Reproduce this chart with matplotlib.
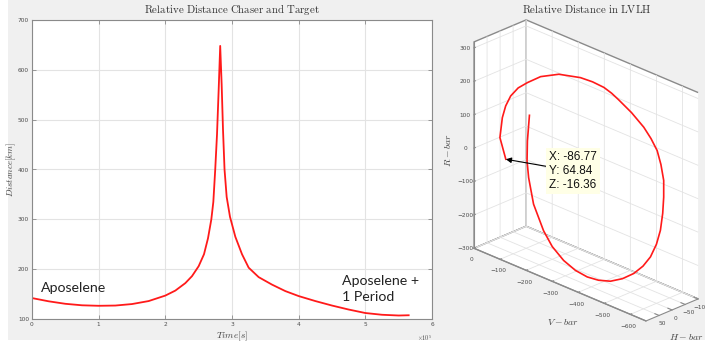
import numpy as np
import matplotlib
matplotlib.use("Agg")
import matplotlib.pyplot as plt
from matplotlib.patches import Rectangle
from mpl_toolkits.mplot3d import proj3d

plt.rcParams["mathtext.fontset"] = "cm"

# Relative distance between chaser and target over one orbit
time_e5 = [0.0, 0.25, 0.5, 0.75, 1.0, 1.25, 1.5, 1.75, 2.0, 2.15, 2.3, 2.4,
           2.5, 2.58, 2.64, 2.69, 2.72, 2.748, 2.775, 2.80, 2.823, 2.845,
           2.865, 2.888, 2.92, 2.97, 3.05, 3.15, 3.25, 3.4, 3.6, 3.8, 4.0,
           4.25, 4.5, 4.75, 5.0, 5.25, 5.5, 5.65]
distance_km = [142, 135.5, 130.5, 127.5, 126.5, 127, 130, 136, 147, 157, 172,
               186, 206, 230, 262, 300, 335, 399, 470, 560, 648, 570, 480,
               400, 345, 305, 265, 230, 203, 184, 169, 156, 146, 136, 127,
               119, 112, 108.5, 107, 107.5]

# Relative trajectory in the LVLH frame (km)
v_bar = [-86.77, -67.3, -76.6, -88.4, -106.7, -131.4, -162.8, -203.6, -260.5,
         -328.4, -372.8, -413.4, -437.9, -459.6, -501.4, -541.5, -564.1,
         -582.7, -594.2, -602.9, -602.9, -600.1, -593.3, -581.1, -562.1,
         -538.4, -508.2, -469.7, -428.6, -389.6, -354.4, -311.2, -269.0,
         -227.3, -196.8, -163.4, -149.5, -145.4, -148.8, -157.6]
h_bar = [64.84, 68, 68, 67, 66, 62, 58, 48, 35, 20, 18, 15, 10, 5, -3, -10,
         -15, -20, -23, -25, -25, -24, -22, -19, -15, -10, -5, 0, 5, 12, 20,
         22, 25, 27, 30, 35, 40, 42, 44, 45]
r_bar = [-16.36, 43.1, 105.9, 144.5, 180.2, 211.0, 235.9, 264.0, 285.6, 292.9,
         294.3, 290.0, 279.1, 265.2, 237.6, 204.7, 176.7, 145.3, 106.4, 60.8,
         11.0, -38.3, -90.6, -135.4, -178.3, -212.2, -242.4, -269.1, -288.6,
         -296.2, -295.3, -289.3, -272.6, -244.2, -205.6, -135.4, -58.9, -9.6,
         51.9, 132.0]

dist_ticks = [100, 200, 300, 400, 500, 600, 700]
time_ticks = [0, 1, 2, 3, 4, 5, 6]
v_ticks = [0, -100, -200, -300, -400, -500, -600]
h_ticks = [-100, -50, 0, 50]
r_ticks = [-300, -200, -100, 0, 100, 200, 300]

W, H = 705, 347
fig = plt.figure(figsize=(W / 100, H / 100), dpi=100)
fig.patch.set_facecolor("white")
fig.patches.append(Rectangle((8 / W, 7 / H), 1 - 8 / W, 1 - 7 / H,
                             transform=fig.transFigure, facecolor="#f0f0f0",
                             edgecolor="none", zorder=-10))

spine_c = "#8a8a8a"
tick_c = "#4d4d4d"
grid_c = "#e3e3e3"

# ---- left: distance vs time ----
ax1 = fig.add_axes([32 / W, 28 / H, 400 / W, 299 / H])
t_s = np.array(time_e5) * 1e5
ax1.plot(t_s, distance_km, color="#ff1a1a", lw=1.3)
ax1.set_xlim(0, 6e5)
ax1.set_ylim(100, 700)
ax1.set_xticks([t * 1e5 for t in time_ticks])
ax1.set_xticklabels([str(t) for t in time_ticks])
ax1.set_yticks(dist_ticks)
ax1.set_yticklabels([str(d) for d in dist_ticks])
ax1.grid(True, color=grid_c, lw=0.8)
ax1.set_axisbelow(True)
for s in ax1.spines.values():
    s.set_color(spine_c)
    s.set_linewidth(0.8)
ax1.tick_params(direction="in", length=3, width=0.6, color=spine_c,
                labelsize=4.2, labelcolor=tick_c, top=True, right=True, pad=2)
ax1.set_title(r"$\mathrm{Relative\ Distance\ Chaser\ and\ Target}$",
              fontsize=7.8, color="#333333", pad=5)
ax1.set_xlabel(r"$Time[s]$", fontsize=6.8, color="#444444", labelpad=2)
ax1.set_ylabel(r"$Distance[km]$", fontsize=6.5, color="#444444", labelpad=0)
ax1.text(1.0, -0.048, r"$\times10^{5}$", transform=ax1.transAxes,
         fontsize=4.5, color=tick_c, ha="right", va="top")
ax1.text(0.023, 0.105, "Aposelene", transform=ax1.transAxes,
         fontsize=10.2, family="Lato", color="#222222", va="center")
ax1.text(0.775, 0.102, "Aposelene +\n1 Period", transform=ax1.transAxes,
         fontsize=10.2, family="Lato", color="#222222", va="center",
         linespacing=1.4)

# ---- right: 3D trajectory in LVLH ----
ax2 = fig.add_axes([450 / W, 3 / H, 265 / W, 340 / H], projection="3d",
                   proj_type="ortho")
ax2.set_facecolor("#f0f0f0")
ax2.plot(v_bar, h_bar, r_bar, color="#ff1a1a", lw=1.2)
ax2.set_xlim(-660, 0)
ax2.set_ylim(-100, 100)
ax2.set_zlim(-300, 318)
ax2.set_box_aspect((660, 200, 618), zoom=1.25)
ax2.view_init(elev=25, azim=135)
ax2.set_xticks(v_ticks)
ax2.set_yticks(h_ticks)
ax2.set_zticks(r_ticks)
for axis in (ax2.xaxis, ax2.yaxis, ax2.zaxis):
    axis.set_pane_color((1, 1, 1, 1))
    axis.pane.set_edgecolor(spine_c)
    axis.line.set_color(spine_c)
    axis.line.set_linewidth(0.8)
    axis._axinfo["grid"].update(color=grid_c, linewidth=0.6)
    axis._axinfo["tick"].update(inward_factor=0.0, outward_factor=0.3)
ax2.zaxis.set_ticks_position("upper")
ax2.tick_params(labelsize=4.2, labelcolor=tick_c, color=spine_c, pad=-4)
ax2.tick_params(axis="y", pad=-6)

fig.text(587 / W, 1 - 9 / H, r"$\mathrm{Relative\ Distance\ in\ LVLH}$",
         fontsize=7.8, color="#333333", ha="center", va="center")
fig.text(448 / W, 1 - 150 / H, r"$R-bar$", rotation=90, fontsize=7,
         color="#444444", ha="center", va="center")
fig.text(563 / W, 1 - 322 / H, r"$V-bar$", fontsize=7, color="#444444",
         ha="center", va="center")
fig.text(704 / W, 1 - 337 / H, r"$H-bar$", fontsize=7, color="#444444",
         ha="right", va="center")

# data tip on the first trajectory sample
fig.canvas.draw()
px, py, _ = proj3d.proj_transform(v_bar[0], h_bar[0], r_bar[0], ax2.get_proj())
tip_text = f"X: {v_bar[0]:.2f}\nY: {h_bar[0]:.2f}\nZ: {r_bar[0]:.2f}"
ax2.annotate(tip_text, xy=(px, py), xycoords="data",
             xytext=(549, H - 171), textcoords="figure pixels",
             fontsize=8.5, family="Liberation Sans", color="#111111",
             ha="left", va="center", linespacing=1.25,
             bbox=dict(boxstyle="square,pad=0.25", fc="#ffffe6", ec="none"),
             arrowprops=dict(arrowstyle="-|>", color="black", lw=0.8,
                             mutation_scale=8, shrinkA=0, shrinkB=0))

fig.savefig("out.png", dpi=100, facecolor=fig.get_facecolor())
